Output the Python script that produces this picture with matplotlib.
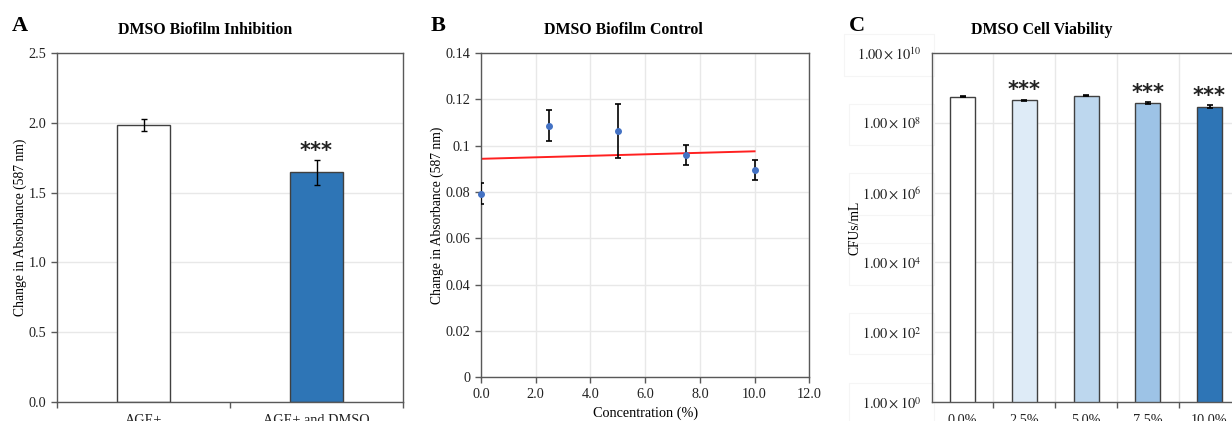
import numpy as np
import matplotlib
matplotlib.use("Agg")
import matplotlib.pyplot as plt
from matplotlib.ticker import FixedLocator, NullLocator, FuncFormatter

plt.rcParams['font.family'] = ['Liberation Serif', 'DejaVu Serif']
plt.rcParams['mathtext.fontset'] = 'stix'

# ---------------- data ----------------
a_categories = ["AGE+", "AGE+ and DMSO"]
a_values = [1.986, 1.645]
a_errors = [0.044, 0.090]
a_stars = ["", "***"]

b_conc = [0.0, 2.5, 5.0, 7.5, 10.0]
b_values = [0.0793, 0.1085, 0.1063, 0.0960, 0.0896]
b_errors = [0.0044, 0.0067, 0.0117, 0.0044, 0.0044]

c_categories = ["0.0%", "2.5%", "5.0%", "7.5%", "10.0%"]
c_values = [5.6e8, 4.4e8, 6.0e8, 3.6e8, 2.9e8]
c_errors = [0.25e8, 0.25e8, 0.25e8, 0.25e8, 0.25e8]
c_stars = ["", "***", "", "***", "***"]
c_colors = ["#ffffff", "#deebf7", "#bdd7ee", "#9dc3e6", "#2e75b6"]

# ---------------- style ----------------
W, H = 1232, 421
fig = plt.figure(figsize=(W / 100, H / 100), dpi=100)
EDGE = "#404040"
SPINE = "#595959"
GRID = "#e8e8e8"
TICK_FS = 10.3
LABEL_FS = 9.8
TITLE_FS = 11.4
STAR_KW = dict(ha='center', va='baseline', fontsize=15, fontweight='bold',
               family=['DejaVu Sans'], color='#222222',
               textcoords='offset points', xytext=(0, 2.3))


def box(l, t, r, b):
    return [l / W, 1 - b / H, (r - l) / W, (b - t) / H]


def style_axes(ax):
    for s in ax.spines.values():
        s.set_color(SPINE)
        s.set_linewidth(1.0)
    ax.tick_params(which='both', direction='out', color=SPINE, length=4,
                   width=1.0, labelsize=TICK_FS, labelcolor='#222222')
    ax.set_axisbelow(True)


# ---------------- panel A ----------------
axA = fig.add_axes(box(57, 53, 403, 402))
xa = np.arange(len(a_categories))
axA.bar(xa, a_values, width=0.31, color=["#ffffff", "#2e75b6"],
        edgecolor=EDGE, linewidth=1.0, zorder=2)
axA.errorbar(xa, a_values, yerr=a_errors, fmt='none', ecolor='black',
             elinewidth=1.0, capsize=2.5, capthick=1.0, zorder=3)
for x, v, e, s in zip(xa, a_values, a_errors, a_stars):
    if s:
        axA.annotate(s, xy=(x, v + e), **STAR_KW)
axA.set_xlim(-0.5, 1.5)
axA.set_ylim(0, 2.5)
axA.set_yticks(np.arange(0, 2.51, 0.5))
axA.yaxis.set_major_formatter(FuncFormatter(lambda v, p: f"{v:.1f}"))
axA.xaxis.set_major_locator(FixedLocator(xa))
axA.set_xticklabels(a_categories)
axA.xaxis.set_minor_locator(FixedLocator([-0.5, 0.5, 1.5]))
style_axes(axA)
axA.tick_params(axis='x', which='major', length=0, pad=9)
axA.grid(axis='y', which='major', color=GRID, linewidth=1.0)
axA.set_ylabel("Change in Absorbance (587 nm)", fontsize=LABEL_FS, labelpad=1)

# ---------------- panel B ----------------
axB = fig.add_axes(box(481, 53, 809.3, 377.3))
axB.errorbar(b_conc, b_values, yerr=b_errors, fmt='none', ecolor='black',
             elinewidth=1.2, capsize=2.5, capthick=1.2, zorder=3)
axB.plot(b_conc, b_values, 'o', color='#4472c4', markersize=4, zorder=4,
         clip_on=False)
coef = np.polyfit(b_conc, b_values, 1)
xs = np.array([min(b_conc), max(b_conc)])
axB.plot(xs, np.polyval(coef, xs), color='#ff2020', linewidth=1.4, zorder=2)
axB.set_xlim(0, 12)
axB.set_ylim(0, 0.14)
axB.set_xticks(np.arange(0, 12.1, 2))
axB.xaxis.set_major_formatter(FuncFormatter(lambda v, p: f"{v:.1f}"))
yt = np.arange(0, 0.141, 0.02)
axB.set_yticks(yt)
axB.set_yticklabels(["0", "0.02", "0.04", "0.06", "0.08", "0.1", "0.12", "0.14"])
style_axes(axB)
axB.grid(True, which='major', color=GRID, linewidth=1.0)
axB.set_ylabel("Change in Absorbance (587 nm)", fontsize=LABEL_FS, labelpad=1)
axB.set_xlabel("Concentration (%)", fontsize=TICK_FS, labelpad=4)

# ---------------- panel C ----------------
axC = fig.add_axes(box(931.7, 53, 1240.4, 402))
xc = np.arange(len(c_categories))
axC.bar(xc, c_values, width=0.405, color=c_colors, edgecolor=EDGE,
        linewidth=1.0, zorder=2)
axC.errorbar(xc, c_values, yerr=c_errors, fmt='none', ecolor='black',
             elinewidth=1.2, capsize=2, capthick=1.2, zorder=3)
for x, v, e, s in zip(xc, c_values, c_errors, c_stars):
    if s:
        axC.annotate(s, xy=(x, v + e), **STAR_KW)
axC.set_yscale('log')
axC.set_ylim(1, 1e10)
axC.set_xlim(-0.5, 4.5)
axC.yaxis.set_major_locator(FixedLocator([1e0, 1e2, 1e4, 1e6, 1e8, 1e10]))
axC.yaxis.set_minor_locator(NullLocator())
axC.yaxis.set_major_formatter(FuncFormatter(
    lambda v, p: r"$1.00\times10^{%d}$" % int(round(np.log10(v)))))
axC.xaxis.set_major_locator(FixedLocator(xc))
axC.set_xticklabels(c_categories)
axC.xaxis.set_minor_locator(FixedLocator(np.arange(-0.5, 4.6, 1.0)))
style_axes(axC)
axC.tick_params(axis='x', which='major', length=0, pad=9)
axC.grid(axis='y', which='major', color=GRID, linewidth=1.0)
axC.grid(axis='x', which='minor', color=GRID, linewidth=1.0)
for lab in axC.get_yticklabels():
    lab.set_bbox(dict(boxstyle='square,pad=0.9', facecolor='white',
                      edgecolor='#f5f5f5', linewidth=0.8))
axC.set_ylabel("CFUs/mL", fontsize=LABEL_FS)
axC.yaxis.set_label_coords((861 - 931.7) / 308.7, 0.5)

# ---------------- titles and letters ----------------
fig.text(205 / W, 1 - 30 / H, "DMSO Biofilm Inhibition", ha='center', va='center',
         fontsize=TITLE_FS, fontweight='bold')
fig.text(623 / W, 1 - 30 / H, "DMSO Biofilm Control", ha='center', va='center',
         fontsize=TITLE_FS, fontweight='bold')
fig.text(1042 / W, 1 - 30 / H, "DMSO Cell Viability", ha='center', va='center',
         fontsize=TITLE_FS, fontweight='bold')
for x, letter in [(20, "A"), (438, "B"), (857, "C")]:
    fig.text(x / W, 1 - 26 / H, letter, ha='center', va='center',
             fontsize=16, fontweight='bold')

fig.savefig("out.png", dpi=100)
